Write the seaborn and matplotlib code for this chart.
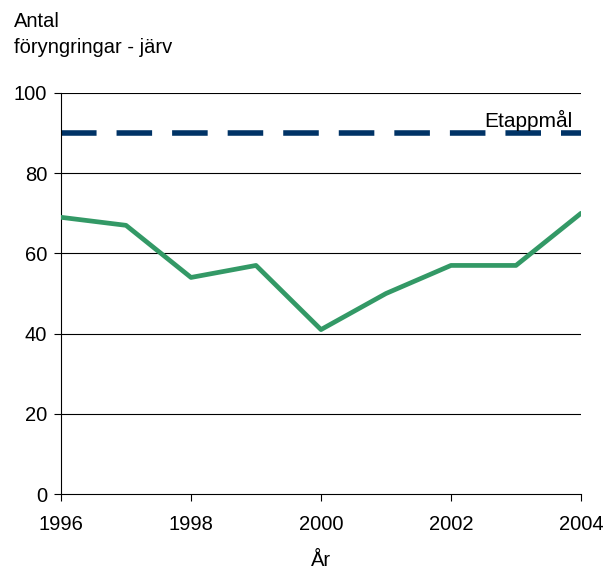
import matplotlib
matplotlib.use("Agg")
import matplotlib.pyplot as plt
import seaborn as sns
import pandas as pd

# data
years = [1996, 1997, 1998, 1999, 2000, 2001, 2002, 2003, 2004]
foryngringar = [69, 67, 54, 57, 41, 50, 57, 57, 70]
etappmal = 90

sns.set_style("white")
plt.rcParams['font.family'] = ['Liberation Sans', 'DejaVu Sans']
plt.rcParams['text.color'] = 'black'
plt.rcParams['xtick.color'] = 'black'
plt.rcParams['ytick.color'] = 'black'

df = pd.DataFrame({'year': years, 'antal': foryngringar})

fig = plt.figure(figsize=(6.08, 5.72), dpi=100)
ax = fig.add_axes([61 / 608, 1 - 494 / 572, 520 / 608, 401 / 572])

# horizontal grid lines
for y in [20, 40, 60, 80, 100]:
    ax.axhline(y, color='black', lw=0.8, zorder=1)

ax.axhline(etappmal, color='#003366', lw=4.0, dashes=(6.4, 3.6), zorder=2)
ax.text(2004 - 0.13, etappmal + 0.6, 'Etappmål', ha='right', va='bottom',
        fontsize=15, color='black', zorder=3)

sns.lineplot(data=df, x='year', y='antal', color='#339966', lw=3.4, ax=ax, zorder=3)

ax.set_xlim(1996, 2004)
ax.set_ylim(0, 100)
ax.set_xticks([1996, 1998, 2000, 2002, 2004])
ax.set_yticks([0, 20, 40, 60, 80, 100])
ax.tick_params(axis='both', direction='out', length=5, width=0.8,
               labelsize=14.5, bottom=True, left=True)
ax.tick_params(axis='x', pad=10)
ax.tick_params(axis='y', pad=5)

for side in ['top', 'right']:
    ax.spines[side].set_visible(False)
for side in ['left', 'bottom']:
    ax.spines[side].set_color('black')
    ax.spines[side].set_linewidth(0.8)

ax.set_xlabel('År', fontsize=14.5, labelpad=12, color='black')
ax.set_ylabel('')
fig.text(14 / 608, 1 - 12 / 572, 'Antal\nföryngringar - järv', ha='left', va='top',
         fontsize=14.5, linespacing=1.45)

fig.savefig('out.png', dpi=100)
